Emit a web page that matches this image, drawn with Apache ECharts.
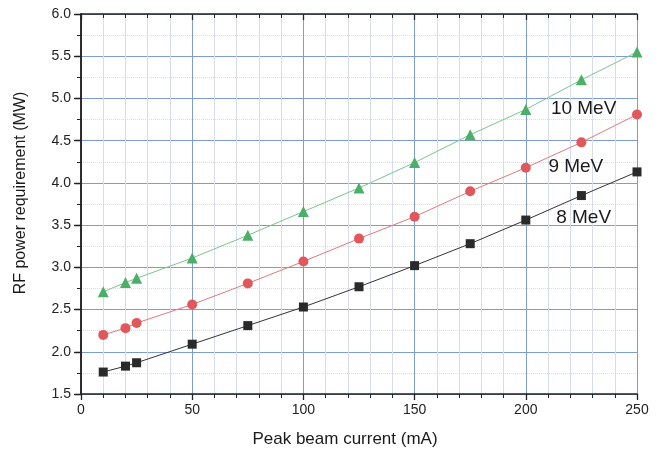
<!DOCTYPE html>
<html>
<head>
<meta charset="utf-8">
<script src="https://cdn.jsdelivr.net/npm/echarts@6/dist/echarts.min.js"></script>
<style>
  html, body { margin: 0; padding: 0; background: #fff; }
  #chart { width: 662px; height: 453px; }
</style>
</head>
<body>
<div id="chart"></div>
<script>
  // peak beam current (mA)
  var currents = [10, 20, 25, 50, 75, 100, 125, 150, 175, 200, 225, 250]
  // RF power requirement (MW)
  var power8 = [1.76, 1.83, 1.87, 2.09, 2.31, 2.53, 2.77, 3.02, 3.28, 3.56, 3.85, 4.13]
  var power9 = [2.20, 2.28, 2.34, 2.56, 2.81, 3.07, 3.34, 3.60, 3.90, 4.18, 4.48, 4.81]
  var power10 = [2.71, 2.82, 2.87, 3.11, 3.38, 3.66, 3.94, 4.24, 4.57, 4.87, 5.22, 5.55]
  var seriesNames = ['8 MeV', '9 MeV', '10 MeV']

  var font = 'Liberation Sans, Arial, sans-serif'
  var majorGrid = '#7e9bd2'
  var minorGrid = '#d6deec'

  function pairs(ys) {
    return currents.map(function (x, i) { return [x, ys[i]] })
  }

  function curve(name, ys, color, lineColor, symbol, size, labelAt) {
    return {
      name: name,
      type: 'line',
      data: pairs(ys),
      symbol: symbol,
      symbolSize: size,
      itemStyle: { color: color },
      lineStyle: { color: lineColor, width: 1 },
      z: 5,
      markPoint: {
        symbol: 'circle',
        symbolSize: 0,
        silent: true,
        label: {
          show: true,
          position: 'inside',
          formatter: name,
          color: '#1a1a1a',
          fontFamily: font,
          fontSize: 19
        },
        data: [{ coord: labelAt }]
      }
    }
  }

  var chart = echarts.init(document.getElementById('chart'))
  chart.setOption({
    animation: false,
    backgroundColor: '#fff',
    grid: { left: 81, right: 25, top: 14, bottom: 59, containLabel: false, outerBoundsMode: 'none' },
    xAxis: [{
      type: 'value',
      min: 0,
      max: 250,
      interval: 50,
      name: 'Peak beam current (mA)',
      nameLocation: 'middle',
      nameGap: 37,
      nameTextStyle: { fontFamily: font, fontSize: 17, color: '#1a1a1a', padding: [0, 28, 0, 0] },
      axisLine: { lineStyle: { color: '#222', width: 1.5 } },
      axisTick: { inside: false, length: 6, lineStyle: { color: '#222', width: 1.3 } },
      minorTick: { show: true, splitNumber: 5, length: 4, lineStyle: { color: '#222' } },
      axisLabel: { fontFamily: font, fontSize: 14, color: '#222', margin: 9 },
      splitLine: { show: true, lineStyle: { color: majorGrid, width: 1 } },
      minorSplitLine: { show: true, lineStyle: { color: minorGrid, width: 1 } }
    }, {
      type: 'value',
      position: 'top',
      min: 0,
      max: 250,
      interval: 50,
      axisLine: { show: true, lineStyle: { color: '#222', width: 1.5 } },
      axisTick: { show: true, inside: true, length: 6, lineStyle: { color: '#222', width: 1.3 } },
      minorTick: { show: true, splitNumber: 5, length: 4, lineStyle: { color: '#222' } },
      axisLabel: { show: false },
      splitLine: { show: false }
    }],
    yAxis: [{
      type: 'value',
      min: 1.5,
      max: 6,
      interval: 0.5,
      name: 'RF power requirement (MW)',
      nameLocation: 'middle',
      nameGap: 52,
      nameTextStyle: { fontFamily: font, fontSize: 16, color: '#1a1a1a', padding: [0, 0, 0, 22] },
      axisLine: { show: true, lineStyle: { color: '#222', width: 1.5 } },
      axisTick: { show: true, inside: false, length: 7, lineStyle: { color: '#222', width: 1.3 } },
      minorTick: { show: true, splitNumber: 2, length: 4, lineStyle: { color: '#222' } },
      axisLabel: {
        fontFamily: font,
        fontSize: 14,
        color: '#222',
        margin: 10,
        formatter: function (v) { return v.toFixed(1) }
      },
      splitLine: { show: true, lineStyle: { color: majorGrid, width: 1 } },
      minorSplitLine: { show: true, lineStyle: { color: minorGrid, width: 1, type: 'dotted' } }
    }, {
      type: 'value',
      position: 'right',
      min: 1.5,
      max: 6,
      interval: 0.5,
      axisLine: { show: true, lineStyle: { color: '#222', width: 1.5 } },
      axisTick: { show: true, inside: true, length: 6, lineStyle: { color: '#222', width: 1.3 } },
      minorTick: { show: true, splitNumber: 2, length: 4, lineStyle: { color: '#222' } },
      axisLabel: { show: false },
      splitLine: { show: false }
    }],
    series: [
      curve(seriesNames[0], power8, '#2a2a2a', '#333', 'rect', 9, [226, 3.59]),
      curve(seriesNames[1], power9, '#e0585c', '#e07a7d', 'circle', 10, [222.5, 4.19]),
      curve(seriesNames[2], power10, '#4caf68', '#7cc48f', 'triangle', 11, [226, 4.88])
    ]
  })
</script>
</body>
</html>
